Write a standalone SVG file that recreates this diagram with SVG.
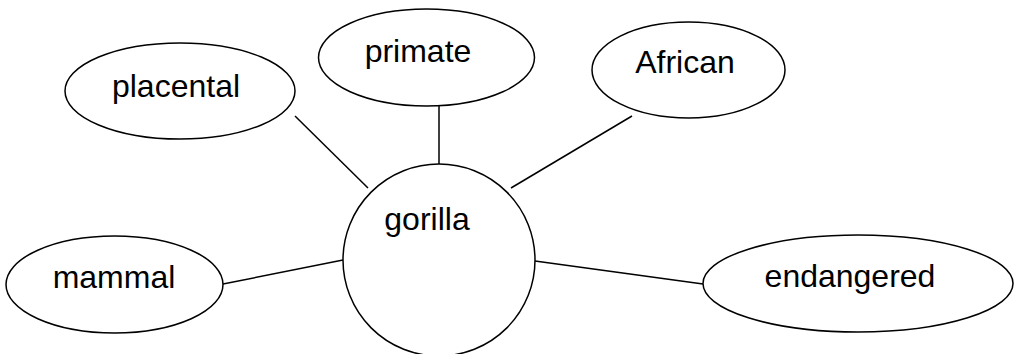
<svg xmlns="http://www.w3.org/2000/svg" width="1014" height="354" viewBox="0 0 1014 354">
<style>
.n{fill:#fff;stroke:#000;stroke-width:1.5}
.t{font-family:"Liberation Sans",Arial,sans-serif;font-size:32px;fill:#000;text-anchor:middle}
.c line{stroke:#000;stroke-width:1.5}
</style>
<rect width="1014" height="354" fill="#fff"/>
<g class="c" id="connectors">
<line x1="295" y1="116" x2="368" y2="188"/>
<line x1="439" y1="106" x2="439" y2="164"/>
<line x1="632" y1="116" x2="511" y2="188"/>
<line x1="223" y1="284" x2="343" y2="260"/>
<line x1="535" y1="261" x2="703" y2="284"/>
</g>
<g id="gorilla"><circle class="n" cx="439" cy="260" r="96"/><text class="t" x="427" y="230">gorilla</text></g>
<g id="placental"><ellipse class="n" cx="180" cy="91" rx="115" ry="48"/><text class="t" x="176" y="97">placental</text></g>
<g id="primate"><ellipse class="n" cx="426.5" cy="57.5" rx="108" ry="48.5"/><text class="t" x="418" y="62">primate</text></g>
<g id="african"><ellipse class="n" cx="688.5" cy="70" rx="96.5" ry="48"/><text class="t" x="685" y="73">African</text></g>
<g id="mammal"><ellipse class="n" cx="114.5" cy="284.5" rx="108.5" ry="48.5"/><text class="t" x="114" y="288">mammal</text></g>
<g id="endangered"><ellipse class="n" cx="858" cy="283.5" rx="155" ry="48.5"/><text class="t" x="850" y="287">endangered</text></g>
</svg>
